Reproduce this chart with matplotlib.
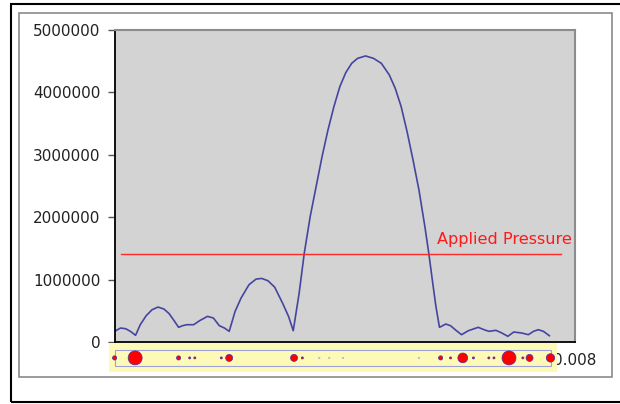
# 圧力分布と付加圧力のチャート
import numpy as np
import matplotlib.pyplot as plt
from matplotlib.patches import Rectangle

# 曲線 (位置, 圧力)
pos = [0.0, 0.000103, 0.000192, 0.000275, 0.000364, 0.000446, 0.000549, 0.000652,
       0.000755, 0.000858, 0.000948, 0.00103, 0.001112, 0.001181, 0.00125, 0.001373,
       0.001476, 0.001614, 0.001717, 0.00182, 0.001909, 0.001991, 0.002094, 0.002197,
       0.002335, 0.002458, 0.002554, 0.002664, 0.002781, 0.002918, 0.003022, 0.003104,
       0.003207, 0.003296, 0.003399, 0.003502, 0.003605, 0.003708, 0.003811, 0.003914,
       0.004017, 0.00412, 0.004223, 0.004361, 0.004498, 0.004635, 0.004773, 0.004876,
       0.004979, 0.005082, 0.005185, 0.005288, 0.005391, 0.005459, 0.005528, 0.005583,
       0.005645, 0.005755, 0.005837, 0.00594, 0.006029, 0.006146, 0.006318, 0.006421,
       0.006503, 0.006627, 0.00673, 0.006833, 0.006936, 0.007073, 0.00719, 0.007279,
       0.007362, 0.007451, 0.007554]
pressure = [171e3, 224e3, 213e3, 171e3, 107e3, 277e3, 422e3, 518e3,
            560e3, 528e3, 454e3, 347e3, 235e3, 261e3, 277e3, 277e3,
            341e3, 411e3, 384e3, 261e3, 224e3, 171e3, 491e3, 704e3,
            918e3, 1008e3, 1019e3, 982e3, 880e3, 624e3, 411e3, 181e3,
            784e3, 1425e3, 2012e3, 2492e3, 2972e3, 3399e3, 3773e3, 4093e3,
            4317e3, 4466e3, 4546e3, 4584e3, 4546e3, 4466e3, 4280e3, 4066e3,
            3773e3, 3372e3, 2919e3, 2439e3, 1852e3, 1425e3, 944e3, 571e3,
            235e3, 288e3, 261e3, 181e3, 117e3, 181e3, 235e3, 197e3,
            171e3, 187e3, 144e3, 91e3, 160e3, 144e3, 117e3, 171e3,
            197e3, 171e3, 101e3]

# 付加圧力
applied_x = [0.000103, 0.00776]
applied_p = [1.41e6, 1.41e6]

# 下の帯の点 (位置, 重み)
dot_x = [0.0, 0.000357, 0.001112, 0.001305, 0.001394, 0.001854, 0.001991, 0.003118,
         0.003262, 0.003557, 0.003729, 0.003969, 0.005288, 0.005665, 0.005837, 0.00605,
         0.006235, 0.006503, 0.006592, 0.006853, 0.007094, 0.00721, 0.007574]
dot_w = [3, 10, 3, 1.5, 1.5, 1.5, 5, 5,
         1.5, 1, 1, 1, 1, 3, 1.5, 7,
         1.5, 1.5, 1.5, 10, 1.5, 5, 6]

fig = plt.figure(figsize=(6.2, 4.04), dpi=100)
fig.patch.set_facecolor('white')

# 外枠
fig.patches.append(Rectangle((11/620, 1-402/404), 1.0, 398/404, transform=fig.transFigure,
                             fill=False, edgecolor='black', linewidth=1.5))
fig.patches.append(Rectangle((19/620, 1-377/404), 593/620, 364/404, transform=fig.transFigure,
                             fill=False, edgecolor='#8a8a8a', linewidth=1.2))

ax = fig.add_axes([114.6/620, 1-342/404, 460.4/620, 312/404])
ax.set_facecolor('#d3d3d3')

ax.plot(pos, pressure, color='#4545a0', linewidth=1.2, solid_joinstyle='round')
ax.plot(applied_x, applied_p, color='#ff2a2a', linewidth=1.0)
ax.text(0.0056, 1.65e6, 'Applied Pressure', color='#ff1a1a', fontsize=11.6, va='center')

ax.set_xlim(0, 0.008)
ax.set_ylim(0, 5e6)
ax.set_yticks(np.arange(0, 5000001, 1000000))
ax.set_yticklabels([str(v) for v in range(0, 5000001, 1000000)])
ax.set_xticks(np.arange(0, 0.0081, 0.001))
ax.set_xticklabels(['0'] + ['%.3f' % v for v in np.arange(0.001, 0.0081, 0.001)])
ax.tick_params(axis='y', length=5, width=1, color='#555555', pad=5, labelsize=11, labelcolor='#222222')
ax.tick_params(axis='x', length=0, pad=8, labelsize=11, labelcolor='#222222')

ax.spines['left'].set_color('black')
ax.spines['left'].set_linewidth(1.3)
ax.spines['bottom'].set_color('black')
ax.spines['bottom'].set_linewidth(1.3)
for s in ['top', 'right']:
    ax.spines[s].set_color('#8c8c8c')
    ax.spines[s].set_linewidth(1.5)

# 下の黄色い帯
tr = ax.get_xaxis_transform()
ax.add_patch(Rectangle((-0.0001, -0.096), 0.00779, 0.093, transform=tr, clip_on=False,
                       facecolor='#fdfab8', edgecolor='none', zorder=5))
ax.add_patch(Rectangle((0.0, -0.077), 0.00758, 0.051, transform=tr, clip_on=False,
                       facecolor='none', edgecolor='#a0a0d8', linewidth=0.8, zorder=6))
sizes = [(w * 1.3) ** 2 * 0.6 for w in dot_w]
faces = ['#ff0000' if w > 1 else '#c8c8e0' for w in dot_w]
edges = ['#5030a0' if w > 1 else '#b0b0d8' for w in dot_w]
ax.scatter(dot_x, [-0.051] * len(dot_x), s=sizes, c=faces, edgecolors=edges, linewidths=0.5,
           transform=tr, clip_on=False, zorder=7)

fig.savefig('out.png', dpi=100)
